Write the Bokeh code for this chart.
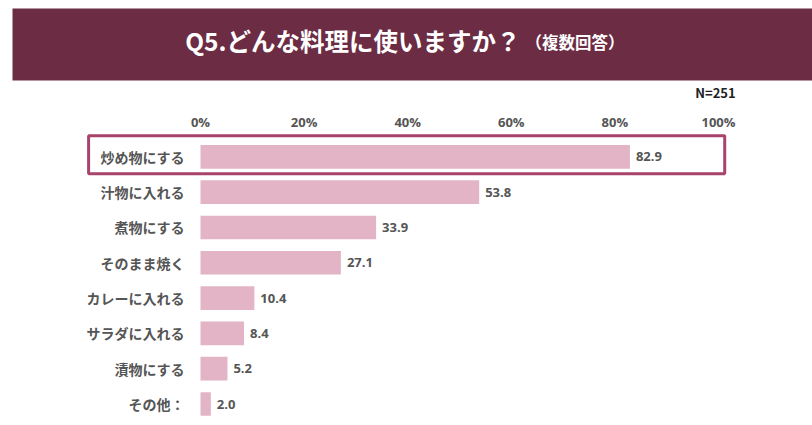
from bokeh.plotting import figure
from bokeh.layouts import column
from bokeh.models import Range1d, Label, FixedTicker, PrintfTickFormatter, ColumnDataSource
from bokeh.core.properties import value
from bokeh.embed import file_html
from bokeh.resources import INLINE

# ---- data ----
categories = ["炒め物にする", "汁物に入れる", "煮物にする", "そのまま焼く",
              "カレーに入れる", "サラダに入れる", "漬物にする", "その他："]
percent = [82.9, 53.8, 33.9, 27.1, 10.4, 8.4, 5.2, 2.0]
x_ticks = [0, 20, 40, 60, 80, 100]
title_main = "Q5.どんな料理に使いますか？"
title_sub = "（複数回答）"
sample_note = "N=251"

JP = "Noto Sans CJK JP"
NUM = "Open Sans"
MAROON = "#6b2c44"
PINK = "#e2b4c6"
FRAME = "#a8436b"
GREY = "#555555"

W = 812

# ---- banner (pixel-like coordinates) ----
banner = figure(width=W, height=104, output_backend="svg", toolbar_location=None,
                x_range=Range1d(0, W), y_range=Range1d(104, 0),
                min_border_left=0, min_border_right=0, min_border_top=0, min_border_bottom=0)
banner.axis.visible = False
banner.grid.visible = False
banner.outline_line_color = None
banner.background_fill_color = "white"
banner.border_fill_color = "white"
banner.quad(left=12, right=W, top=8, bottom=80, fill_color=MAROON, line_color=None)
banner.add_layout(Label(x=520, y=40, text=title_main,
                        text_font=JP, text_font_style="bold", text_font_size="24.5px",
                        text_color="white", text_align="right", text_baseline="middle"))
banner.add_layout(Label(x=525, y=41, text=title_sub,
                        text_font=JP, text_font_style="bold", text_font_size="16.5px",
                        text_color="white", text_align="left", text_baseline="middle"))
banner.add_layout(Label(x=715, y=92, text=sample_note,
                        text_font=JP, text_font_style="bold", text_font_size="13px",
                        text_color="#222222", text_align="center", text_baseline="middle"))

# ---- main chart ----
ypos = [-i for i in range(len(categories))]
src = ColumnDataSource(dict(cat=categories, pct=percent, y=ypos,
                            lbl=[f"{v:.1f}" for v in percent]))

px_per_unit = 5.18
x_start = -200 / px_per_unit
x_end = x_start + W / px_per_unit

p = figure(width=W, height=321, output_backend="svg", toolbar_location=None,
           x_range=Range1d(x_start, x_end), y_range=Range1d(-7.609, 0.691),
           x_axis_location="above",
           min_border_left=0, min_border_right=0, min_border_top=28, min_border_bottom=0)
p.outline_line_color = None
p.grid.visible = False
p.yaxis.visible = False

ax = p.xaxis[0]
ax.ticker = FixedTicker(ticks=x_ticks)
ax.formatter = PrintfTickFormatter(format="%d%%")
ax.axis_line_color = None
ax.major_tick_line_color = None
ax.minor_tick_line_color = None
ax.major_tick_out = 0
ax.major_tick_in = 0
ax.major_label_standoff = 2
ax.major_label_text_font = NUM
ax.major_label_text_font_style = "bold"
ax.major_label_text_font_size = "13px"
ax.major_label_text_color = GREY

p.hbar(y="y", left=0, right="pct", height=0.67, source=src,
       fill_color=PINK, line_color=None)

p.text(x="pct", y="y", text="lbl", source=src, x_offset=6,
       text_font=value(NUM), text_font_style="bold", text_font_size="13px",
       text_color=GREY, text_align="left", text_baseline="middle")

p.text(x=-3.1, y="y", text="cat", source=src,
       text_font=value(JP), text_font_style="bold", text_font_size="14px",
       text_color=GREY, text_align="right", text_baseline="middle")

# highlight frame around the top answer
p.quad(left=-21.6, right=101.2, top=ypos[0] + 0.6, bottom=ypos[0] - 0.48,
       fill_color=None, line_color=FRAME, line_width=3)

layout = column(banner, p, spacing=0)
open("out.html", "w").write(file_html(layout, INLINE))
